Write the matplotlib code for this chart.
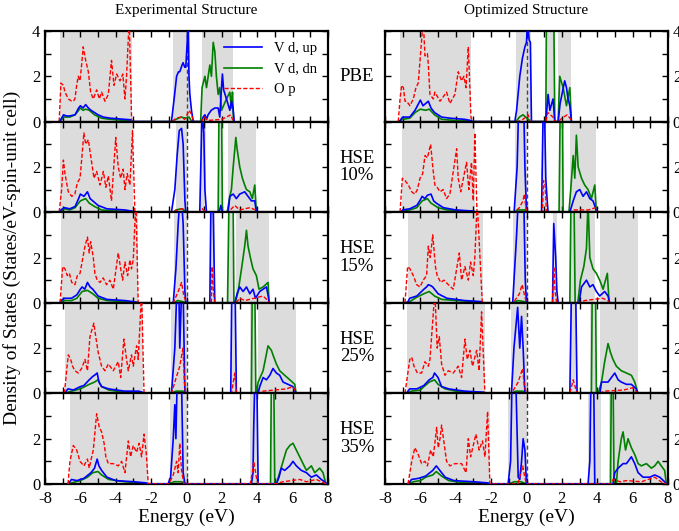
import matplotlib
matplotlib.use("Agg")
import matplotlib.pyplot as plt
from matplotlib.ticker import MultipleLocator

plt.rcParams['font.family'] = ['Liberation Serif', 'DejaVu Serif']
plt.rcParams['axes.unicode_minus'] = False

methods = ["PBE", "HSE\n10%", "HSE\n15%", "HSE\n25%", "HSE\n35%"]

# ---------- Experimental structure ----------
# gray = energy windows where the total DOS is off the scale
exp_pbe_gray = [(-7.15, -3.1), (-0.75, 0.19), (0.85, 2.63)]
exp_pbe_up = [(-7.2, 0), (-7.1, 0.1), (-6.95, 0.3), (-6.8, 0.25), (-6.6, 0.25), (-6.3, 0.3), (-6.1, 0.6), (-6.0, 0.7),
              (-5.85, 0.6), (-5.7, 0.75), (-5.55, 0.6), (-5.4, 0.5), (-5.2, 0.4), (-5.0, 0.3), (-4.7, 0.2), (-4.3, 0.15),
              (-3.8, 0.12), (-3.5, 0.1), (-3.15, 0.08), (-3.05, 0),
              (-0.85, 0), (-0.7, 1.0), (-0.56, 2.0), (-0.45, 2.2), (-0.38, 2.2), (-0.25, 2.5), (-0.19, 2.6), (-0.1, 2.4),
              (-0.04, 2.4), (0.04, 3.5), (0.09, 4.5), (0.14, 2.0), (0.19, 1.2), (0.28, 0.5), (0.38, 0),
              (0.85, 0), (0.94, 0.2), (1.04, 0.3), (1.13, 0.1), (1.22, 0.3), (1.4, 0.5), (1.6, 0.6), (1.79, 0.6),
              (1.88, 0.2), (1.98, 1.5), (2.03, 2.1), (2.1, 1.4), (2.26, 1.0), (2.45, 0.5), (2.54, 0.9), (2.63, 0.6), (2.7, 0)]
exp_pbe_dn = [(-7.2, 0), (-7.1, 0.05), (-6.95, 0.2), (-6.6, 0.2), (-6.3, 0.3), (-6.1, 0.5), (-6.0, 0.6), (-5.85, 0.5),
              (-5.7, 0.55), (-5.5, 0.5), (-5.2, 0.3), (-4.8, 0.15), (-4.3, 0.1), (-3.5, 0.05), (-3.1, 0.05), (-3.0, 0),
              (-0.85, 0), (-0.6, 0.1), (-0.3, 0.2), (-0.05, 0.15), (0.15, 0.2), (0.3, 0),
              (0.8, 0), (0.88, 1.5), (1.04, 2.0), (1.13, 1.5), (1.32, 2.5), (1.41, 2.0), (1.51, 3.5), (1.6, 3.1),
              (1.69, 2.0), (1.79, 1.2), (1.88, 1.5), (1.98, 0.5), (2.26, 1.0), (2.45, 1.3), (2.54, 0.6), (2.6, 1.3), (2.66, 0)]
exp_pbe_op = [(-7.2, 0), (-7.1, 1.7), (-6.96, 1.6), (-6.87, 1.3), (-6.68, 1.0), (-6.49, 0.9), (-6.4, 0.9), (-6.31, 1.0),
              (-6.21, 1.6), (-6.12, 2.0), (-6.02, 1.8), (-5.93, 2.5), (-5.84, 3.3), (-5.7, 2.7), (-5.55, 2.2), (-5.42, 1.3),
              (-5.27, 1.0), (-5.08, 1.4), (-4.93, 1.0), (-4.8, 1.3), (-4.61, 0.9), (-4.42, 1.2), (-4.24, 2.7), (-4.1, 1.6),
              (-3.95, 2.1), (-3.76, 1.8), (-3.6, 2.1), (-3.48, 1.0), (-3.39, 2.0), (-3.24, 4.5), (-3.1, 0),
              (-0.8, 0), (-0.6, 0.15), (-0.3, 0.2), (-0.1, 0.1), (0.15, 0.5), (0.3, 0.3), (0.4, 0),
              (0.85, 0), (1.0, 0.2), (1.2, 0.05), (2.0, 0.1), (2.5, 0.3), (2.6, 0.1), (2.7, 0)]

exp_h10_gray = [(-7.15, -3.05), (-0.6, 0.0), (0.75, 1.1), (1.79, 2.03), (2.35, 3.95)]
exp_h10_up = [(-7.2, 0), (-7.1, 0.1), (-6.9, 0.2), (-6.6, 0.15), (-6.3, 0.25), (-6.1, 0.6), (-6.0, 0.8), (-5.8, 0.7),
              (-5.6, 0.9), (-5.45, 0.6), (-5.3, 0.5), (-5.0, 0.3), (-4.5, 0.15), (-3.5, 0.1), (-3.1, 0.05), (-3.0, 0),
              (-0.85, 0), (-0.66, 1.0), (-0.53, 2.5), (-0.41, 3.6), (-0.28, 3.7), (-0.19, 3.0), (-0.09, 0.5), (-0.04, 0),
              (0.75, 0), (0.88, 4.5), (0.98, 3.5), (1.04, 1.0), (1.13, 0),
              (1.79, 0), (1.88, 0.1), (1.94, 0.3), (2.03, 0),
              (2.35, 0), (2.45, 0.7), (2.64, 0.8), (2.82, 0.6), (3.01, 0.8), (3.29, 0.9), (3.48, 0.7), (3.67, 0.5),
              (3.86, 0.5), (3.95, 0)]
exp_h10_dn = [(-7.2, 0), (-7.1, 0.05), (-6.9, 0.15), (-6.6, 0.1), (-6.3, 0.2), (-6.0, 0.5), (-5.7, 0.6), (-5.5, 0.4),
              (-5.2, 0.25), (-4.8, 0.1), (-4.0, 0.05), (-3.05, 0.03), (-3.0, 0),
              (-0.7, 0), (-0.6, 0.1), (-0.3, 0.15), (-0.05, 0.05), (0.0, 0),
              (1.79, 0), (1.84, 5.0), (1.98, 5.0), (2.03, 0),
              (2.3, 0), (2.45, 0.7), (2.54, 1.0), (2.64, 2.0), (2.79, 3.3), (2.86, 2.8), (3.01, 2.0), (3.16, 1.5),
              (3.29, 1.2), (3.39, 1.0), (3.58, 0.9), (3.72, 0.6), (3.86, 1.2), (3.95, 0)]
exp_h10_op = [(-7.2, 0), (-7.06, 1.0), (-6.96, 2.3), (-6.87, 1.7), (-6.78, 1.3), (-6.68, 0.9), (-6.49, 0.7), (-6.31, 0.8),
              (-6.17, 1.3), (-6.02, 1.5), (-5.93, 2.3), (-5.8, 3.5), (-5.7, 3.0), (-5.55, 3.2), (-5.42, 2.5), (-5.23, 1.5),
              (-5.08, 1.8), (-4.89, 1.2), (-4.7, 1.8), (-4.56, 1.1), (-4.42, 1.6), (-4.24, 0.5), (-4.0, 3.3), (-3.86, 2.0),
              (-3.72, 1.5), (-3.58, 1.9), (-3.48, 1.0), (-3.35, 1.7), (-3.2, 1.2), (-3.05, 3.6), (-2.92, 0),
              (-0.8, 0), (-0.5, 0.1), (-0.2, 0.15), (0.0, 0),
              (0.75, 0), (0.9, 0.15), (1.1, 0),
              (2.35, 0), (2.73, 0.3), (3.0, 0.1), (3.58, 0.2), (3.9, 0.1), (3.95, 0)]

exp_h15_gray = [(-7.1, -2.73), (-0.7, 0.0), (1.32, 1.6), (2.32, 2.63), (2.79, 4.67)]
exp_h15_up = [(-7.15, 0), (-7.1, 0.1), (-6.9, 0.2), (-6.5, 0.2), (-6.2, 0.35), (-6.0, 0.6), (-5.9, 0.7), (-5.75, 0.6),
              (-5.6, 0.9), (-5.45, 0.7), (-5.3, 0.6), (-5.0, 0.3), (-4.5, 0.15), (-3.5, 0.1), (-3.0, 0.05), (-2.75, 0),
              (-0.75, 0), (-0.6, 1.5), (-0.47, 3.5), (-0.38, 4.5), (-0.28, 4.5), (-0.19, 3.5), (-0.09, 0.5), (-0.04, 0),
              (1.32, 0), (1.38, 4.5), (1.5, 4.5), (1.6, 0),
              (2.73, 0), (2.86, 0.4), (3.01, 0.7), (3.2, 0.5), (3.39, 0.7), (3.58, 0.4), (3.76, 0.6), (3.9, 0.2),
              (4.14, 0.5), (4.52, 0.7), (4.62, 0.3), (4.67, 0)]
exp_h15_dn = [(-7.15, 0), (-7.1, 0.05), (-6.9, 0.1), (-6.5, 0.1), (-6.2, 0.2), (-5.9, 0.5), (-5.6, 0.55), (-5.3, 0.4),
              (-5.0, 0.2), (-4.5, 0.1), (-3.5, 0.05), (-2.8, 0.03), (-2.73, 0),
              (-0.7, 0), (-0.5, 0.1), (-0.2, 0.05), (0.0, 0),
              (2.32, 0), (2.41, 5.0), (2.63, 5.0), (2.68, 0),
              (2.75, 0), (2.92, 0.5), (3.11, 1.5), (3.2, 2.0), (3.29, 2.5), (3.39, 3.2), (3.48, 2.5), (3.61, 2.0),
              (3.76, 1.5), (3.95, 1.2), (4.1, 0.6), (4.33, 0.7), (4.61, 0.9), (4.67, 0)]
exp_h15_op = [(-7.15, 0), (-7.0, 1.6), (-6.87, 1.5), (-6.74, 1.2), (-6.62, 1.3), (-6.49, 0.9), (-6.31, 0.8), (-6.17, 1.2),
              (-6.02, 1.3), (-5.74, 2.5), (-5.6, 2.9), (-5.5, 2.2), (-5.42, 2.7), (-5.27, 2.0), (-5.18, 1.3), (-5.05, 1.0),
              (-4.89, 0.9), (-4.71, 1.1), (-4.52, 0.8), (-4.33, 1.0), (-4.14, 0.6), (-3.86, 2.2), (-3.72, 1.5), (-3.61, 1.0),
              (-3.48, 1.8), (-3.33, 1.2), (-3.2, 1.9), (-3.11, 1.5), (-3.01, 1.9), (-2.86, 4.5), (-2.73, 0),
              (-0.75, 0), (-0.47, 0.5), (-0.28, 0.9), (-0.15, 0.3), (0.0, 0),
              (1.4, 0), (1.45, 1.6), (1.52, 0.5), (1.6, 0),
              (2.8, 0), (3.01, 0.2), (3.3, 0.1), (4.33, 0.3), (4.6, 0.1), (4.67, 0)]

exp_h25_gray = [(-6.87, -2.45), (-0.85, 0.0), (2.54, 2.82), (3.58, 3.86), (4.05, 6.2)]
exp_h25_up = [(-6.9, 0), (-6.7, 0.2), (-6.4, 0.15), (-6.0, 0.3), (-5.8, 0.35), (-5.5, 0.6), (-5.3, 0.75), (-5.2, 0.8),
              (-5.05, 0.9), (-4.95, 0.5), (-4.8, 0.3), (-4.4, 0.2), (-3.5, 0.1), (-2.7, 0.1), (-2.5, 0.05), (-2.45, 0),
              (-0.85, 0), (-0.66, 2.0), (-0.55, 4.5), (-0.43, 4.5), (-0.38, 2.0), (-0.28, 4.5), (-0.19, 4.5), (-0.09, 0),
              (2.5, 0), (2.56, 4.5), (2.75, 4.5), (2.82, 0),
              (4.05, 0), (4.14, 0.3), (4.33, 0.7), (4.52, 0.6), (4.71, 0.8), (4.89, 1.1), (5.08, 0.9), (5.27, 0.8),
              (5.46, 0.5), (5.74, 0.4), (6.02, 0.3), (6.2, 0)]
exp_h25_dn = [(-6.9, 0), (-6.5, 0.1), (-6.0, 0.2), (-5.5, 0.4), (-5.2, 0.5), (-5.0, 0.6), (-4.8, 0.3), (-4.4, 0.15),
              (-3.5, 0.05), (-2.5, 0.03), (-2.45, 0),
              (-0.85, 0), (-0.6, 0.1), (-0.2, 0.1), (0.0, 0),
              (3.67, 0), (3.72, 5.0), (3.86, 5.0), (3.92, 0),
              (3.95, 0), (4.05, 0.5), (4.33, 1.0), (4.61, 2.1), (4.8, 1.9), (4.89, 1.7), (5.08, 1.3), (5.27, 1.0),
              (5.55, 0.8), (5.84, 0.6), (6.12, 0.4), (6.2, 0)]
exp_h25_op = [(-6.9, 0), (-6.78, 1.0), (-6.68, 1.7), (-6.55, 1.5), (-6.44, 1.2), (-6.31, 1.0), (-6.12, 0.9), (-5.93, 1.1),
              (-5.74, 1.5), (-5.6, 1.0), (-5.46, 2.5), (-5.24, 3.1), (-5.13, 2.5), (-4.99, 1.8), (-4.8, 1.2), (-4.61, 1.0),
              (-4.42, 1.3), (-4.14, 1.0), (-3.86, 1.4), (-3.72, 0.7), (-3.54, 2.4), (-3.39, 1.5), (-3.29, 1.0), (-3.11, 1.7),
              (-3.01, 1.2), (-2.82, 2.1), (-2.73, 1.5), (-2.54, 4.5), (-2.4, 0),
              (-0.85, 0), (-0.66, 0.5), (-0.38, 1.2), (-0.2, 2.0), (-0.12, 0.5), (-0.05, 0),
              (2.54, 0), (2.73, 0.9), (2.82, 0),
              (4.05, 0), (4.33, 0.1), (5.65, 0.2), (6.02, 0.3), (6.2, 0)]

exp_h35_gray = [(-6.59, -2.16), (-0.94, 0.0), (3.6, 4.05), (4.75, 7.92)]
exp_h35_up = [(-6.7, 0), (-6.5, 0.2), (-6.2, 0.15), (-5.8, 0.25), (-5.4, 0.5), (-5.2, 0.7), (-5.05, 1.1), (-4.95, 0.8),
              (-4.8, 0.6), (-4.5, 0.3), (-4.0, 0.15), (-3.0, 0.1), (-2.3, 0.05), (-2.16, 0),
              (-1.04, 0), (-0.9, 0.3), (-0.75, 2.0), (-0.66, 3.5), (-0.6, 2.0), (-0.53, 4.5), (-0.28, 4.5), (-0.19, 0.5),
              (-0.09, 0),
              (3.67, 0), (3.76, 0.5), (3.8, 2.5), (3.86, 4.5), (3.98, 4.5), (4.05, 0),
              (5.08, 0), (5.23, 0.3), (5.36, 0.7), (5.55, 0.6), (5.84, 0.8), (6.02, 1.0), (6.21, 0.8), (6.49, 0.6),
              (6.78, 0.5), (7.06, 0.3), (7.34, 0.4), (7.62, 0.2), (7.81, 0.1), (7.91, 0)]
exp_h35_dn = [(-6.7, 0), (-6.5, 0.05), (-6.0, 0.15), (-5.6, 0.3), (-5.3, 0.5), (-5.0, 0.55), (-4.8, 0.4), (-4.4, 0.2),
              (-3.5, 0.1), (-2.3, 0.03), (-2.16, 0),
              (-1.0, 0), (-0.7, 0.1), (-0.3, 0.1), (0.0, 0),
              (4.75, 0), (4.8, 5.0), (4.93, 5.0), (4.99, 0),
              (5.08, 0), (5.27, 0.5), (5.46, 1.0), (5.65, 1.5), (5.84, 1.7), (6.02, 1.8), (6.21, 1.5), (6.4, 1.2),
              (6.59, 0.9), (6.78, 0.6), (7.06, 0.8), (7.25, 0.5), (7.53, 0.7), (7.72, 0.5), (7.85, 0.1), (7.91, 0)]
exp_h35_op = [(-6.7, 0), (-6.59, 1.0), (-6.4, 1.7), (-6.21, 1.5), (-6.02, 1.0), (-5.8, 0.8), (-5.6, 1.1), (-5.5, 0.7),
              (-5.36, 1.2), (-5.27, 1.5), (-5.08, 3.1), (-4.93, 2.5), (-4.8, 2.3), (-4.66, 1.8), (-4.56, 1.2), (-4.42, 0.9),
              (-4.14, 0.9), (-3.86, 0.8), (-3.67, 1.0), (-3.48, 0.5), (-3.29, 1.9), (-3.16, 1.2), (-3.01, 1.7), (-2.82, 1.4),
              (-2.68, 1.8), (-2.54, 1.2), (-2.4, 2.2), (-2.28, 1.4), (-2.16, 0),
              (-1.0, 0), (-0.75, 0.4), (-0.56, 1.0), (-0.47, 0.5), (-0.38, 1.8), (-0.28, 0.6), (-0.15, 0),
              (3.6, 0), (3.72, 0.5), (3.8, 1.0), (3.95, 0.3), (4.05, 0),
              (5.0, 0), (5.46, 0.1), (6.4, 0.2), (6.78, 0.1), (7.34, 0.2), (7.91, 0)]

# ---------- Optimized structure ----------
opt_pbe_gray = [(-7.15, -3.14), (-0.6, 0.25), (1.09, 1.6), (1.79, 2.54)]
opt_pbe_up = [(-7.25, 0), (-7.15, 0.05), (-7.0, 0.2), (-6.6, 0.2), (-6.3, 0.5), (-6.1, 0.8), (-6.0, 0.95), (-5.85, 0.7),
              (-5.7, 0.8), (-5.55, 0.9), (-5.4, 0.6), (-5.2, 0.4), (-4.8, 0.2), (-4.3, 0.15), (-3.5, 0.1), (-3.15, 0.05),
              (-3.1, 0),
              (-0.66, 0), (-0.56, 0.5), (-0.38, 2.0), (-0.23, 2.8), (-0.09, 3.3), (0.0, 3.5), (0.06, 4.5), (0.15, 3.6),
              (0.22, 3.5), (0.28, 0),
              (1.09, 0), (1.22, 1.2), (1.32, 0.5), (1.5, 1.0), (1.6, 0),
              (1.79, 0), (1.9, 0.8), (2.16, 1.8), (2.26, 1.5), (2.35, 1.0), (2.45, 0.7), (2.54, 0)]
opt_pbe_dn = [(-7.25, 0), (-7.0, 0.1), (-6.6, 0.15), (-6.3, 0.4), (-6.0, 0.55), (-5.7, 0.5), (-5.5, 0.55), (-5.2, 0.3),
              (-4.8, 0.1), (-4.0, 0.05), (-3.1, 0.03), (-3.0, 0),
              (-0.6, 0), (-0.4, 0.2), (-0.2, 0.3), (0.1, 0.1), (0.2, 0),
              (1.09, 0), (1.13, 5.0), (1.54, 5.0), (1.6, 0),
              (1.79, 0), (1.88, 2.0), (2.07, 1.5), (2.26, 0.7), (2.45, 1.5), (2.54, 0)]
opt_pbe_op = [(-7.25, 0), (-7.15, 1.0), (-7.06, 1.6), (-6.96, 1.5), (-6.87, 0.9), (-6.78, 0.9), (-6.59, 0.7), (-6.4, 1.0),
              (-6.25, 1.5), (-6.12, 1.7), (-5.84, 4.5), (-5.74, 2.9), (-5.6, 3.0), (-5.55, 2.5), (-5.46, 1.2), (-5.27, 1.0),
              (-5.18, 1.3), (-4.89, 0.9), (-4.52, 1.3), (-4.33, 0.8), (-4.05, 1.2), (-3.86, 2.2), (-3.67, 1.8), (-3.54, 2.0),
              (-3.42, 1.5), (-3.29, 3.3), (-3.14, 0.2), (-3.05, 0),
              (-0.5, 0), (-0.2, 0.1), (0.1, 0.3), (0.2, 0),
              (1.1, 0), (1.2, 0.4), (1.5, 0.2), (1.6, 0),
              (1.8, 0), (2.0, 0.15), (2.3, 0.3), (2.5, 0.1), (2.55, 0)]

opt_h10_gray = [(-7.06, -2.92), (-0.66, 0.0), (0.9, 1.13), (1.88, 2.03), (2.45, 3.95)]
opt_h10_up = [(-7.1, 0), (-7.0, 0.1), (-6.6, 0.15), (-6.2, 0.3), (-6.0, 0.55), (-5.9, 0.7), (-5.75, 0.6), (-5.6, 0.75),
              (-5.4, 0.8), (-5.25, 0.5), (-5.1, 0.4), (-4.7, 0.2), (-4.0, 0.1), (-3.0, 0.05), (-2.92, 0),
              (-0.7, 0), (-0.53, 2.0), (-0.45, 4.5), (-0.15, 4.5), (-0.09, 2.0), (0.0, 0),
              (0.85, 0), (0.94, 4.5), (1.02, 4.5), (1.09, 1.5), (1.17, 0.5), (1.22, 0),
              (2.45, 0), (2.64, 0.5), (2.82, 0.9), (3.01, 1.0), (3.2, 0.7), (3.39, 0.9), (3.58, 0.6), (3.76, 0.5),
              (3.9, 0.2), (3.95, 0)]
opt_h10_dn = [(-7.1, 0), (-7.0, 0.05), (-6.6, 0.1), (-6.2, 0.2), (-5.9, 0.5), (-5.6, 0.6), (-5.4, 0.4), (-5.0, 0.2),
              (-4.5, 0.1), (-3.0, 0.03), (-2.92, 0),
              (-0.7, 0), (-0.5, 0.1), (-0.1, 0.1), (0.0, 0),
              (1.84, 0), (1.91, 5.0), (2.03, 5.0), (2.07, 0),
              (2.4, 0), (2.5, 1.0), (2.64, 2.5), (2.73, 1.5), (2.82, 3.4), (2.92, 2.0), (3.11, 1.5), (3.29, 1.2),
              (3.48, 1.0), (3.67, 0.6), (3.86, 1.2), (3.95, 0)]
opt_h10_op = [(-7.15, 0), (-7.02, 1.5), (-6.87, 1.4), (-6.68, 1.2), (-6.49, 0.9), (-6.31, 0.8), (-6.17, 1.0), (-6.02, 1.5),
              (-5.87, 1.7), (-5.74, 2.5), (-5.6, 2.4), (-5.42, 3.0), (-5.3, 2.0), (-5.18, 1.2), (-5.05, 1.1), (-4.89, 0.9),
              (-4.71, 1.0), (-4.52, 0.6), (-4.33, 0.8), (-3.95, 2.8), (-3.86, 1.5), (-3.72, 0.9), (-3.39, 2.2), (-3.26, 1.0),
              (-3.11, 2.2), (-3.01, 0.5), (-2.92, 3.5), (-2.8, 0),
              (-0.7, 0), (-0.4, 0.2), (-0.2, 0.5), (-0.12, 0.8), (-0.05, 0.3), (0.0, 0),
              (0.9, 0), (0.96, 1.4), (1.05, 1.2), (1.13, 0),
              (2.45, 0), (2.7, 0.1), (3.5, 0.1), (3.9, 0.2), (3.95, 0)]

opt_h15_gray = [(-6.68, -2.45), (-0.75, 0.0), (1.5, 1.7), (2.45, 3.86), (4.14, 6.3)]
opt_h15_up = [(-6.8, 0), (-6.7, 0.05), (-6.6, 0.2), (-6.2, 0.3), (-6.0, 0.45), (-5.8, 0.6), (-5.65, 0.7), (-5.55, 0.8),
              (-5.4, 0.75), (-5.3, 0.7), (-5.0, 0.4), (-4.5, 0.2), (-3.5, 0.1), (-2.5, 0.05), (-2.45, 0),
              (-0.78, 0), (-0.56, 3.0), (-0.47, 4.5), (-0.15, 4.5), (-0.07, 1.0), (0.0, 0),
              (1.47, 0), (1.54, 3.5), (1.65, 2.0), (1.72, 0.5), (1.79, 0),
              (2.97, 0), (3.11, 0.7), (3.39, 1.0), (3.58, 0.7), (3.76, 0.8), (3.95, 0.5), (4.14, 0.3), (4.42, 0.5),
              (4.61, 0.3), (4.7, 0)]
opt_h15_dn = [(-6.8, 0), (-6.6, 0.05), (-6.4, 0.15), (-6.2, 0.25), (-5.8, 0.4), (-5.5, 0.5), (-5.2, 0.3), (-4.8, 0.15),
              (-4.0, 0.1), (-2.5, 0.03), (-2.45, 0),
              (-0.75, 0), (-0.5, 0.1), (-0.1, 0.05), (0.0, 0),
              (2.45, 0), (2.52, 5.0), (2.68, 5.0), (2.75, 0),
              (2.9, 0), (3.05, 1.0), (3.24, 1.6), (3.39, 2.4), (3.48, 4.5), (3.58, 2.0), (3.76, 1.5), (3.95, 1.3),
              (4.14, 1.0), (4.33, 0.6), (4.57, 1.3), (4.67, 0)]
opt_h15_op = [(-6.87, 0), (-6.72, 1.6), (-6.59, 1.5), (-6.4, 1.2), (-6.21, 0.8), (-6.02, 0.7), (-5.84, 1.0), (-5.65, 1.2),
              (-5.55, 2.5), (-5.44, 2.0), (-5.3, 3.0), (-5.15, 1.6), (-5.05, 1.2), (-4.85, 0.9), (-4.66, 1.0), (-4.42, 0.8),
              (-4.14, 0.6), (-3.8, 2.2), (-3.67, 1.0), (-3.48, 1.6), (-3.29, 1.0), (-3.16, 1.8), (-3.01, 1.2), (-2.92, 2.0),
              (-2.79, 4.5), (-2.5, 0),
              (-0.75, 0), (-0.4, 0.4), (-0.25, 0.8), (-0.1, 0.3), (0.0, 0),
              (1.47, 0), (1.54, 1.6), (1.62, 0.5), (1.7, 0),
              (2.97, 0), (3.3, 0.1), (4.3, 0.2), (4.6, 0.1), (4.67, 0)]

opt_h25_gray = [(-6.78, -2.35), (-0.85, 0.0), (2.45, 2.86), (3.58, 3.95), (4.14, 6.3)]
opt_h25_up = [(-6.8, 0), (-6.6, 0.2), (-6.2, 0.2), (-5.8, 0.35), (-5.5, 0.6), (-5.3, 0.7), (-5.2, 0.9), (-5.0, 0.7),
              (-4.8, 0.3), (-4.4, 0.2), (-3.5, 0.1), (-2.4, 0.05), (-2.35, 0),
              (-0.85, 0), (-0.71, 2.0), (-0.5, 3.8), (-0.38, 2.0), (-0.28, 3.4), (-0.19, 2.0), (-0.09, 0),
              (2.45, 0), (2.54, 4.5), (2.78, 4.5), (2.86, 0),
              (4.15, 0), (4.24, 0.5), (4.42, 0.5), (4.61, 0.5), (4.8, 0.7), (4.99, 0.9), (5.18, 0.6), (5.36, 0.5),
              (5.65, 0.4), (5.93, 0.4), (6.2, 0.2), (6.3, 0)]
opt_h25_dn = [(-6.8, 0), (-6.5, 0.1), (-6.0, 0.15), (-5.8, 0.3), (-5.5, 0.5), (-5.2, 0.6), (-5.0, 0.4), (-4.6, 0.2),
              (-4.0, 0.1), (-2.4, 0.03), (-2.35, 0),
              (-0.85, 0), (-0.6, 0.1), (-0.2, 0.1), (0.0, 0),
              (3.67, 0), (3.72, 5.0), (3.9, 5.0), (3.95, 0),
              (4.05, 0), (4.24, 0.5), (4.42, 1.4), (4.61, 2.2), (4.75, 1.8), (4.89, 1.5), (5.08, 1.2), (5.36, 1.0),
              (5.65, 0.9), (5.93, 0.8), (6.12, 0.5), (6.3, 0)]
opt_h25_op = [(-6.87, 0), (-6.6, 1.5), (-6.49, 1.6), (-6.36, 1.2), (-6.17, 0.9), (-5.93, 0.9), (-5.74, 1.4), (-5.55, 1.2),
              (-5.46, 1.5), (-5.18, 4.5), (-5.05, 2.0), (-4.93, 2.5), (-4.8, 1.3), (-4.61, 0.8), (-4.42, 1.0), (-4.14, 0.9),
              (-3.86, 1.2), (-3.67, 0.7), (-3.48, 2.4), (-3.35, 1.5), (-3.2, 1.9), (-3.05, 1.2), (-2.82, 1.9), (-2.68, 1.0),
              (-2.54, 3.6), (-2.35, 0),
              (-0.85, 0), (-0.47, 0.5), (-0.22, 1.1), (-0.12, 0.3), (0.0, 0),
              (2.45, 0), (2.64, 0.6), (2.75, 0.3), (2.86, 0),
              (4.14, 0), (4.4, 0.1), (5.5, 0.15), (6.0, 0.25), (6.3, 0)]

opt_h35_gray = [(-6.59, -2.07), (-1.04, 0.0), (3.48, 4.23), (4.67, 7.92)]
opt_h35_up = [(-6.7, 0), (-6.5, 0.2), (-6.1, 0.25), (-5.7, 0.35), (-5.3, 0.6), (-5.1, 0.8), (-4.9, 0.6), (-4.6, 0.3),
              (-4.1, 0.15), (-3.0, 0.1), (-2.2, 0.05), (-2.07, 0),
              (-1.04, 0), (-0.9, 1.0), (-0.82, 4.5), (-0.6, 4.5), (-0.47, 0.3), (-0.38, 0.2), (-0.28, 1.0), (-0.19, 2.0),
              (-0.09, 1.5), (0.0, 0),
              (3.48, 0), (3.58, 1.0), (3.64, 4.5), (3.8, 4.5), (3.86, 0),
              (4.89, 0), (4.99, 0.5), (5.18, 0.7), (5.46, 0.9), (5.65, 0.9), (5.93, 1.2), (6.12, 0.9), (6.31, 0.5),
              (6.59, 0.3), (6.97, 0.3), (7.25, 0.4), (7.53, 0.3), (7.81, 0.1), (7.91, 0)]
opt_h35_dn = [(-6.7, 0), (-6.4, 0.1), (-6.0, 0.15), (-5.7, 0.3), (-5.3, 0.4), (-5.1, 0.55), (-4.8, 0.35), (-4.4, 0.15),
              (-3.5, 0.05), (-2.1, 0.03), (-2.07, 0),
              (-1.0, 0), (-0.7, 0.1), (-0.3, 0.1), (0.0, 0),
              (4.75, 0), (4.8, 5.0), (4.89, 5.0), (4.95, 0),
              (5.08, 0), (5.18, 1.0), (5.36, 2.0), (5.46, 2.3), (5.6, 1.5), (5.74, 2.0), (5.93, 1.6), (6.12, 1.3),
              (6.31, 0.9), (6.49, 0.8), (6.78, 0.9), (7.06, 0.7), (7.25, 0.8), (7.44, 1.0), (7.62, 0.8), (7.81, 0.6),
              (7.91, 0)]
opt_h35_op = [(-6.7, 0), (-6.49, 1.0), (-6.31, 1.6), (-6.12, 1.3), (-5.93, 0.9), (-5.74, 1.0), (-5.6, 0.8), (-5.42, 1.5),
              (-5.27, 1.2), (-5.08, 2.5), (-4.99, 1.6), (-4.89, 2.0), (-4.8, 2.6), (-4.66, 1.8), (-4.52, 1.0), (-4.33, 0.8),
              (-4.05, 0.9), (-3.67, 0.9), (-3.42, 0.5), (-3.29, 2.0), (-3.16, 1.2), (-3.01, 1.7), (-2.86, 2.2), (-2.68, 1.5),
              (-2.49, 1.9), (-2.35, 1.2), (-2.2, 3.2), (-2.07, 0),
              (-0.5, 0), (-0.21, 0.8), (-0.1, 0.3), (0.0, 0),
              (4.8, 0), (4.89, 0.2), (5.3, 0.1), (5.65, 0.15), (6.5, 0.1), (7.25, 0.3), (7.6, 0.1), (7.91, 0)]

exp_panels = [(exp_pbe_gray, exp_pbe_up, exp_pbe_dn, exp_pbe_op),
              (exp_h10_gray, exp_h10_up, exp_h10_dn, exp_h10_op),
              (exp_h15_gray, exp_h15_up, exp_h15_dn, exp_h15_op),
              (exp_h25_gray, exp_h25_up, exp_h25_dn, exp_h25_op),
              (exp_h35_gray, exp_h35_up, exp_h35_dn, exp_h35_op)]
opt_panels = [(opt_pbe_gray, opt_pbe_up, opt_pbe_dn, opt_pbe_op),
              (opt_h10_gray, opt_h10_up, opt_h10_dn, opt_h10_op),
              (opt_h15_gray, opt_h15_up, opt_h15_dn, opt_h15_op),
              (opt_h25_gray, opt_h25_up, opt_h25_dn, opt_h25_op),
              (opt_h35_gray, opt_h35_up, opt_h35_dn, opt_h35_op)]

fig = plt.figure(figsize=(6.79, 5.31), dpi=100)
W, H = 679.0, 531.0
top_px, bot_px = 31.0, 484.0
ph = (bot_px - top_px) / 5


def draw_panel(ax, panel):
    gray, up, dn, op = panel
    for lo, hi in gray:
        ax.axvspan(lo, hi, color='#dcdcdc', lw=0, zorder=0)
    ax.axvline(0, color='#444444', lw=1.0, ls=(0, (3, 2)), zorder=1)
    l1, = ax.plot([p[0] for p in up], [p[1] for p in up], color='#0000ff', lw=1.2, zorder=3)
    l2, = ax.plot([p[0] for p in dn], [p[1] for p in dn], color='#008000', lw=1.2, zorder=2)
    l3, = ax.plot([p[0] for p in op], [p[1] for p in op], color='#ff0000', lw=1.0, ls=(0, (3, 1.5)), zorder=4)
    ax.set_xlim(-8, 8)
    ax.set_ylim(0, 4)
    ax.xaxis.set_major_locator(MultipleLocator(2))
    ax.xaxis.set_minor_locator(MultipleLocator(1))
    ax.yaxis.set_major_locator(MultipleLocator(2))
    ax.yaxis.set_minor_locator(MultipleLocator(1))
    ax.tick_params(which='both', direction='in', top=True, right=True, length=4, width=1, labelsize=12)
    ax.tick_params(axis='x', pad=5)
    for s in ax.spines.values():
        s.set_linewidth(1.6)
    return l1, l2, l3


for col, (panels, left_px) in enumerate([(exp_panels, 45.0), (opt_panels, 385.0)]):
    for i, panel in enumerate(panels):
        y0 = bot_px - (5 - i) * ph
        ax = fig.add_axes([left_px / W, 1 - (y0 + ph) / H, 283.0 / W, ph / H])
        handles = draw_panel(ax, panel)
        if i == 0:
            ax.set_yticks([0, 2, 4])
        else:
            ax.set_yticks([0, 2])
        if col == 1:
            # the right column carries its numbers on the right edge (cut by the page, as in the original)
            ax.tick_params(labelleft=False, labelright=True)
        if i < 4:
            ax.tick_params(labelbottom=False)
        else:
            ax.set_xlabel("Energy (eV)", fontsize=14, labelpad=1)
        if i == 0:
            ax.set_title("Experimental Structure" if col == 0 else "Optimized Structure",
                         fontsize=11, pad=12)
        if col == 0 and i == 0:
            ax.legend(handles, ["V d, up", "V d, dn", "O p"], loc='upper right', frameon=False,
                      fontsize=10.5, handlelength=2.6, labelspacing=0.5, borderaxespad=0.35)
        if col == 0:
            fig.text(357 / W, 1 - (y0 + ph / 2) / H, methods[i], ha='center', va='center',
                     fontsize=13.5, linespacing=1.05)

fig.text(12 / W, 1 - (top_px + bot_px) / 2 / H, "Density of States (States/eV-spin-unit cell)",
         rotation=90, ha='center', va='center', fontsize=14)

fig.savefig("out.png", dpi=100)
